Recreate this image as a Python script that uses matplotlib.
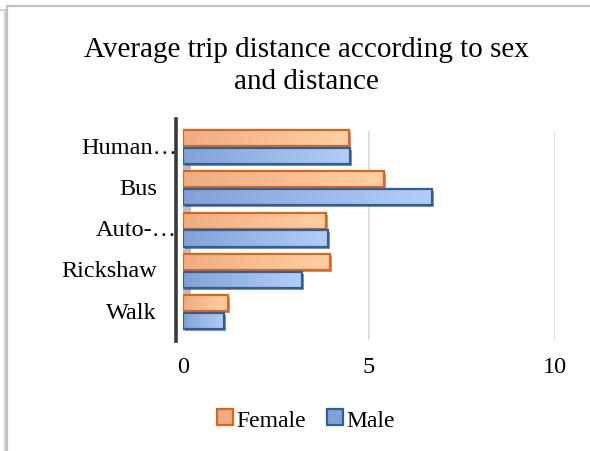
import matplotlib
matplotlib.use("Agg")
import matplotlib.pyplot as plt
import numpy as np
from matplotlib.colors import LinearSegmentedColormap
from matplotlib.patches import Patch
from matplotlib.lines import Line2D
from matplotlib.transforms import ScaledTranslation, offset_copy

# Data (km)
categories = ["Human…", "Bus", "Auto-…", "Rickshaw", "Walk"]
female = [4.45, 5.4, 3.85, 3.95, 1.2]
male = [4.5, 6.7, 3.9, 3.2, 1.1]
x_ticks = [0, 5, 10]
series_names = ["Female", "Male"]

plt.rcParams["font.family"] = ["Liberation Serif", "DejaVu Serif"]

fig = plt.figure(figsize=(5.9, 4.52), dpi=100)
ax = fig.add_axes([183 / 590, 1 - 342 / 452, (555 - 183) / 590, (342 - 120) / 452])

y = np.arange(len(categories))[::-1]
bar_h = 0.39
off = 0.215

styles = {
    "Female": dict(c0="#F0AC82", c1="#FFD0A2", edge="#D8661C", shadow="#9a4a16"),
    "Male": dict(c0="#82A1D6", c1="#B2CEF8", edge="#2F5F9A", shadow="#1f3d66"),
}

shadow_tr = offset_copy(ax.transData, fig=fig, x=2, y=-2, units="dots")


def draw_series(vals, ypos, st):
    ax.barh(ypos, vals, bar_h, color=st["shadow"], alpha=0.55,
            transform=shadow_tr, zorder=1, linewidth=0)
    bars = ax.barh(ypos, vals, bar_h, facecolor="none",
                   edgecolor=st["edge"], linewidth=1.6, zorder=3)
    cmap = LinearSegmentedColormap.from_list("g", [st["c0"], st["c1"]])
    grad = np.linspace(0, 1, 256).reshape(1, -1)
    for b in bars:
        x0, y0 = b.get_x(), b.get_y()
        w, h = b.get_width(), b.get_height()
        im = ax.imshow(grad, cmap=cmap, aspect="auto",
                       extent=[x0, x0 + w, y0, y0 + h], zorder=2)
        im.set_clip_path(b)


draw_series(female, y + off, styles["Female"])
draw_series(male, y - off, styles["Male"])

# side wall shading next to the value axis
ax.axvspan(-0.13, 0.22, ymin=0.05, ymax=0.95, color="#bdbdbd", zorder=0, lw=0)

for xv in x_ticks[1:]:
    ax.axvline(xv, ymin=0.01, ymax=0.94, color="#d9d9d9", lw=1.2, zorder=0)

ax.set_xlim(0, 10)
ax.set_ylim(-0.70, 4.68)

ax.set_xticks(x_ticks)
ax.set_xticklabels([str(t) for t in x_ticks])
ax.tick_params(axis="x", length=0, labelsize=17.5, pad=11)

# category labels: right-aligned, truncated names spill further right
ax.set_yticks(y)
ax.set_yticklabels([])
ax.tick_params(axis="y", length=0)
ytr = ax.get_yaxis_transform()
for yi, name in zip(y, categories):
    dx = -6 if name.endswith("…") else -26
    ax.text(0, yi, name, ha="right", va="center", fontsize=17.5,
            transform=ytr + ScaledTranslation(dx / 100, 0, fig.dpi_scale_trans),
            clip_on=False)

for s in ["top", "right", "bottom"]:
    ax.spines[s].set_visible(False)
ax.spines["left"].set_position(("outward", 5))
ax.spines["left"].set_color("#3a3a3a")
ax.spines["left"].set_linewidth(2.6)

fig.text(306 / 590, 1 - 66 / 452,
         "Average trip distance according to sex\nand distance",
         ha="center", va="center", fontsize=21, linespacing=1.3)

handles = [Patch(facecolor=styles[n]["c0"], edgecolor=styles[n]["edge"], linewidth=1.6)
           for n in series_names]
fig.legend(handles, series_names, loc="center",
           bbox_to_anchor=(306 / 590, 1 - 421 / 452), ncol=2, frameon=False,
           fontsize=17, handlelength=0.65, handleheight=0.65,
           handletextpad=0.15, columnspacing=0.9)

# chart frame edges
fig.add_artist(Line2D([7 / 590, 7 / 590, 1], [0, 1 - 7 / 452, 1 - 7 / 452],
                      color="#c0c0c0", lw=1.6, transform=fig.transFigure))
fig.add_artist(Line2D([0, 5 / 590, 5 / 590], [1 - 11 / 452, 1 - 11 / 452, 0],
                      color="#cfcfcf", lw=1.6, transform=fig.transFigure))

fig.savefig("out.png", dpi=100)
